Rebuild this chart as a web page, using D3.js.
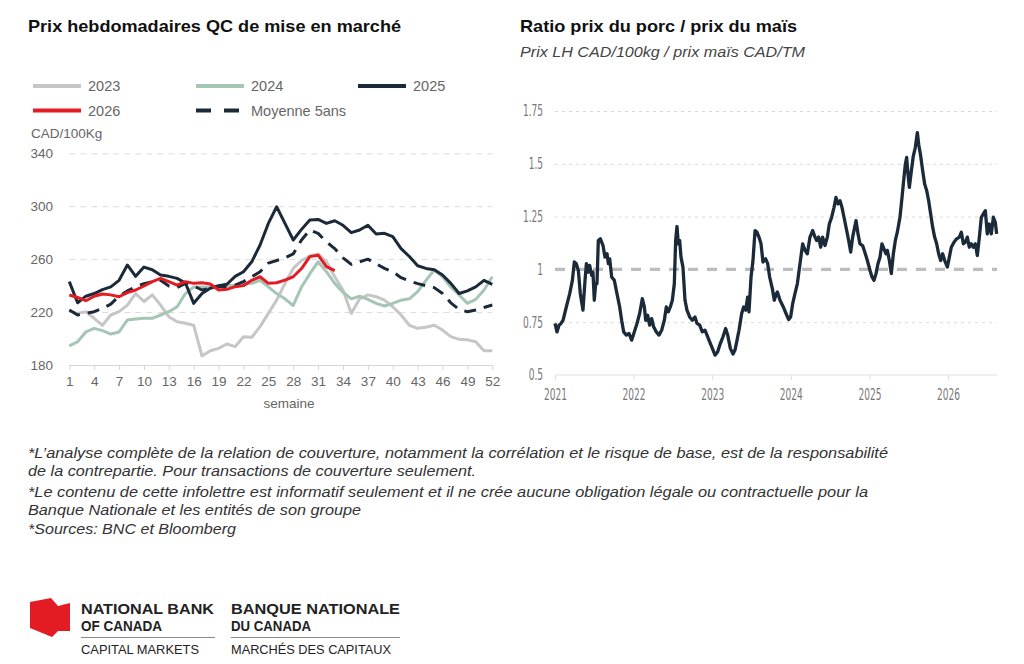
<!DOCTYPE html>
<html lang="fr">
<head>
<meta charset="utf-8">
<script src="https://cdn.jsdelivr.net/npm/d3@7"></script>
<style>
  body { margin: 0; background: #fff; }
  svg { display: block; font-family: "Liberation Sans", Arial, Helvetica, sans-serif; }
</style>
</head>
<body>
<div id="chart"></div>
<script>
// Left chart: weekly QC prices (CAD/100kg)
const weeks = [1, 2, 3, 4, 5, 6, 7, 8, 9, 10, 11, 12, 13, 14, 15, 16, 17, 18, 19, 20, 21, 22, 23, 24, 25, 26,
  27, 28, 29, 30, 31, 32, 33, 34, 35, 36, 37, 38, 39, 40, 41, 42, 43, 44, 45, 46, 47, 48, 49, 50, 51, 52];
const weekTicks = [1, 4, 7, 10, 13, 16, 19, 22, 25, 28, 31, 34, 37, 40, 43, 46, 49, 52];
const priceTicks = [180, 220, 260, 300, 340];

const prix2023 = [221, 219, 220.3, 215.3, 210, 217.8, 220.3, 225.3, 234, 228, 233, 225.3, 216.5, 212.7, 211.5, 210,
  186.8, 190.8, 192.6, 195.9, 193.9, 201.4, 201, 209, 219, 229, 241.7, 253, 259, 262.4, 264, 258, 246.7, 236.7,
  219, 230, 233, 231.6, 229, 224, 217.8, 210, 207.7, 208.5, 210, 206.4, 201.4, 199.4, 199, 197.6, 190.8, 190.8];
const prix2024 = [194.4, 197.6, 205, 207.7, 206, 203.4, 205, 214, 214.8, 215.3, 215.3, 217.8, 220.3, 224, 234, 239,
  239, 239, 239, 240, 240, 241, 241.7, 244, 239, 234, 230, 225, 239, 249, 258, 250.5, 241.7, 235, 230, 232,
  229.6, 226.6, 224.6, 226.6, 229, 230, 235.4, 244, 251.8, 246.7, 239, 233, 226.6, 229.6, 236.7, 246.7];
const prix2025 = [243, 227, 232, 234, 237, 239, 244, 255.6, 247, 254, 252, 248, 247, 245.5, 242, 226.6, 234, 238,
  240, 241, 247, 250.5, 258, 270.7, 287, 299.6, 287, 274.5, 282.5, 289.6, 290, 287, 289, 285.6, 280, 282, 285.6,
  279, 279.5, 277, 268, 262, 255, 253, 252, 248, 241.7, 234, 236, 239, 244, 241];
const prix2026 = [232.9, 231, 228.6, 232, 233.7, 233, 231.6, 234.7, 236.7, 239.7, 243, 245.5, 243, 240.4, 243, 241.7,
  242.2, 241.2, 236.7, 237.2, 239.2, 240, 244, 246.7, 241.7, 242.2, 244.2, 246.7, 252.9, 261.9, 263, 254.3, 251.3];
const moyenne5 = [221.6, 217.8, 219, 220.3, 222.8, 226, 232, 236, 239, 241.5, 243, 244, 239.7, 238.5, 241.7, 239.7,
  236.7, 238, 239.2, 239.2, 240.4, 243, 246.7, 250.5, 257, 259, 261, 264, 274.5, 282, 279.5, 273, 268, 261,
  256, 258, 260, 256.5, 253, 250.5, 246, 243.5, 241.5, 240, 238.5, 234, 227, 222, 220.3, 221.5, 223.5, 225.3];

// Right chart: hog / corn price ratio (decimal year, ratio)
const ratioYears = [2021.000, 2021.025, 2021.051, 2021.076, 2021.102, 2021.144, 2021.187, 2021.221, 2021.246, 2021.271,
  2021.297, 2021.322, 2021.356, 2021.382, 2021.399, 2021.424, 2021.441, 2021.467, 2021.483, 2021.500, 2021.517,
  2021.534, 2021.551, 2021.577, 2021.611, 2021.636, 2021.662, 2021.679, 2021.696, 2021.721, 2021.755, 2021.780,
  2021.823, 2021.848, 2021.874, 2021.908, 2021.941, 2021.975, 2022.009, 2022.043, 2022.077, 2022.111, 2022.137,
  2022.154, 2022.179, 2022.204, 2022.230, 2022.255, 2022.289, 2022.323, 2022.357, 2022.391, 2022.416, 2022.442,
  2022.467, 2022.493, 2022.518, 2022.535, 2022.552, 2022.569, 2022.586, 2022.603, 2022.628, 2022.654, 2022.679,
  2022.713, 2022.747, 2022.781, 2022.807, 2022.841, 2022.874, 2022.908, 2022.934, 2022.959, 2022.993, 2023.036,
  2023.070, 2023.103, 2023.137, 2023.171, 2023.197, 2023.231, 2023.265, 2023.290, 2023.316, 2023.341, 2023.375,
  2023.400, 2023.426, 2023.451, 2023.468, 2023.494, 2023.519, 2023.545, 2023.570, 2023.595, 2023.621, 2023.646,
  2023.680, 2023.706, 2023.731, 2023.765, 2023.790, 2023.816, 2023.829, 2023.863, 2023.905, 2023.939, 2023.973,
  2023.998, 2024.024, 2024.053, 2024.083, 2024.117, 2024.151, 2024.181, 2024.210, 2024.244, 2024.278, 2024.308,
  2024.329, 2024.355, 2024.380, 2024.405, 2024.435, 2024.465, 2024.490, 2024.520, 2024.550, 2024.575, 2024.601,
  2024.626, 2024.651, 2024.677, 2024.711, 2024.736, 2024.762, 2024.787, 2024.813, 2024.830, 2024.855, 2024.880,
  2024.914, 2024.948, 2024.974, 2025.008, 2025.033, 2025.059, 2025.084, 2025.109, 2025.135, 2025.160, 2025.186,
  2025.211, 2025.228, 2025.254, 2025.279, 2025.305, 2025.330, 2025.355, 2025.389, 2025.415, 2025.440, 2025.457,
  2025.474, 2025.491, 2025.508, 2025.534, 2025.559, 2025.584, 2025.610, 2025.627, 2025.652, 2025.678, 2025.703,
  2025.729, 2025.754, 2025.779, 2025.805, 2025.830, 2025.856, 2025.881, 2025.907, 2025.932, 2025.958, 2025.992,
  2026.017, 2026.042, 2026.076, 2026.110, 2026.144, 2026.170, 2026.195, 2026.221, 2026.246, 2026.271, 2026.297,
  2026.322, 2026.348, 2026.373, 2026.399, 2026.424, 2026.450, 2026.475, 2026.500, 2026.526, 2026.551, 2026.577,
  2026.602, 2026.619];
const ratioValues = [0.744, 0.704, 0.736, 0.744, 0.759, 0.822, 0.885, 0.948, 1.035, 1.027,
  0.995, 0.885, 0.807, 0.948, 1.027, 0.987, 1.019, 0.972, 0.987, 0.854, 0.932,
  0.932, 1.137, 1.145, 1.113, 1.058, 1.074, 1.027, 1.050, 0.964, 0.948, 0.901,
  0.822, 0.759, 0.704, 0.689, 0.697, 0.665, 0.704, 0.744, 0.791, 0.862, 0.822,
  0.759, 0.783, 0.736, 0.767, 0.728, 0.704, 0.689, 0.712, 0.759, 0.822, 0.799,
  0.822, 0.854, 0.932, 1.137, 1.203, 1.121, 1.137, 1.058, 1.011, 0.854, 0.807,
  0.775, 0.759, 0.775, 0.744, 0.736, 0.704, 0.712, 0.689, 0.665, 0.634, 0.594,
  0.610, 0.649, 0.681, 0.720, 0.689, 0.626, 0.599, 0.618, 0.665, 0.712, 0.791,
  0.822, 0.807, 0.869, 0.799, 0.964, 1.042, 1.184, 1.176, 1.153, 1.121, 1.035,
  1.050, 1.027, 0.964, 0.909, 0.854, 0.885, 0.893, 0.854, 0.822, 0.791, 0.763,
  0.775, 0.838, 0.885, 0.932, 1.027, 1.121, 1.090, 1.074, 1.153, 1.184, 1.153,
  1.137, 1.153, 1.105, 1.153, 1.113, 1.153, 1.215, 1.247, 1.294, 1.341, 1.310,
  1.325, 1.294, 1.247, 1.184, 1.137, 1.082, 1.153, 1.200, 1.231, 1.168, 1.121,
  1.113, 1.074, 1.042, 0.995, 0.964, 0.948, 0.980, 1.027, 1.058, 1.121, 1.097,
  1.074, 1.090, 1.042, 0.980, 1.074, 1.137, 1.176, 1.247, 1.341, 1.436, 1.498,
  1.530, 1.451, 1.388, 1.467, 1.538, 1.577, 1.648, 1.593, 1.538, 1.467, 1.404,
  1.373, 1.325, 1.263, 1.200, 1.153, 1.121, 1.074, 1.042, 1.074, 1.042, 1.011,
  1.058, 1.105, 1.129, 1.145, 1.153, 1.176, 1.121, 1.129, 1.153, 1.105, 1.121,
  1.105, 1.121, 1.066, 1.153, 1.247, 1.263, 1.278, 1.168, 1.215, 1.168, 1.247,
  1.223, 1.168];
const yearTicks = [2021, 2022, 2023, 2024, 2025, 2026];
const ratioTicks = [0.5, 0.75, 1, 1.25, 1.5, 1.75];

const legendItems = [
  { label: '2023', color: '#c6c6c6', dash: null },
  { label: '2024', color: '#a5c5b5', dash: null },
  { label: '2025', color: '#1b2a38', dash: null },
  { label: '2026', color: '#e31c23', dash: null },
  { label: 'Moyenne 5ans', color: '#1b2a38', dash: '15,13' }
];

const footnotes = [
  '*L\u2019analyse compl\u00e8te de la relation de couverture, notamment la corr\u00e9lation et le risque de base, est de la responsabilit\u00e9',
  'de la contrepartie. Pour transactions de couverture seulement.',
  '*Le contenu de cette infolettre est informatif seulement et il ne cr\u00e9e aucune obligation l\u00e9gale ou contractuelle pour la',
  'Banque Nationale et les entit\u00e9s de son groupe',
  '*Sources: BNC et Bloomberg'
];
// measured line widths in the picture (px)
const footnoteWidths = [860, 448, 840, 333, 208];

const svg = d3.select('#chart').append('svg').attr('width', 1024).attr('height', 664);

// ---- Titles
svg.append('text').attr('x', 28).attr('y', 32).style('font-size', '17px').style('font-weight', 'bold').attr('fill', '#111')
  .attr('textLength', 373).attr('lengthAdjust', 'spacingAndGlyphs')
  .text('Prix hebdomadaires QC de mise en march\u00e9');
svg.append('text').attr('x', 520).attr('y', 32).style('font-size', '17px').style('font-weight', 'bold').attr('fill', '#111')
  .attr('textLength', 277).attr('lengthAdjust', 'spacingAndGlyphs')
  .text('Ratio prix du porc / prix du ma\u00efs');
svg.append('text').attr('x', 520).attr('y', 57).style('font-size', '15px').style('font-style', 'italic').attr('fill', '#444')
  .attr('textLength', 285).attr('lengthAdjust', 'spacingAndGlyphs')
  .text('Prix LH CAD/100kg / prix ma\u00efs CAD/TM');

// ---- Left chart
const xWeek = d3.scaleLinear().domain([1, 52]).range([69.3, 492.3]);
const yPrice = d3.scaleLinear().domain([180, 340]).range([365, 153.3]);

const left = svg.append('g').attr('class', 'left');

left.append('g').attr('class', 'grid-y')
  .attr('transform', `translate(${xWeek(1)},0)`)
  .call(d3.axisLeft(yPrice).tickValues(priceTicks.slice(1)).tickSize(-(xWeek(52) - xWeek(1))).tickFormat(''))
  .call(g => g.select('.domain').remove())
  .selectAll('line').attr('stroke', '#dcdcdc').attr('stroke-width', 1).attr('stroke-dasharray', '6,5');

left.append('g').attr('class', 'axis-y')
  .attr('transform', 'translate(56,0)')
  .call(d3.axisLeft(yPrice).tickValues(priceTicks).tickSize(0).tickPadding(3))
  .call(g => g.select('.domain').remove())
  .selectAll('text').attr('fill', '#666').style('font-size', '13.5px').style('font-family', '"Liberation Sans", Arial, sans-serif');

left.append('g').attr('class', 'axis-x')
  .attr('transform', `translate(0,${yPrice(180)})`)
  .call(d3.axisBottom(xWeek).tickValues(weekTicks).tickSize(5).tickSizeOuter(0).tickPadding(6))
  .call(g => g.select('.domain').attr('stroke', '#d6d6d6'))
  .call(g => g.selectAll('line').attr('stroke', '#d6d6d6'))
  .selectAll('text').attr('fill', '#666').style('font-size', '13.5px').style('font-family', '"Liberation Sans", Arial, sans-serif');

left.append('text').attr('x', xWeek(27.5)).attr('y', 408).attr('text-anchor', 'middle')
  .attr('fill', '#666').style('font-size', '13.5px').text('semaine');
left.append('text').attr('x', 31).attr('y', 138).attr('fill', '#666').style('font-size', '13.5px').text('CAD/100Kg');

const priceLine = d3.line().x((d, i) => xWeek(weeks[i])).y(d => yPrice(d));
const leftSeries = [
  { values: prix2023, color: '#c6c6c6', dash: null },
  { values: prix2024, color: '#a5c5b5', dash: null },
  { values: prix2025, color: '#1b2a38', dash: null },
  { values: moyenne5, color: '#1b2a38', dash: '12,8' },
  { values: prix2026, color: '#e31c23', dash: null }
];
leftSeries.forEach(s => {
  left.append('path')
    .datum(s.values)
    .attr('fill', 'none')
    .attr('stroke', s.color)
    .attr('stroke-width', 3)
    .attr('stroke-linejoin', 'round')
    .attr('stroke-dasharray', s.dash)
    .attr('d', priceLine);
});

// Legend
const legendPos = [[33, 86], [196, 86], [358, 86], [33, 110.5], [196, 110.5]];
legendItems.forEach((item, i) => {
  const [lx, ly] = legendPos[i];
  const lg = svg.append('g').attr('transform', `translate(${lx},${ly})`);
  lg.append('line').attr('x1', 0).attr('x2', item.dash ? 43 : 48).attr('y1', 0).attr('y2', 0)
    .attr('stroke', item.color).attr('stroke-width', 4).attr('stroke-dasharray', item.dash);
  lg.append('text').attr('x', 55).attr('y', 0).attr('dy', '0.35em').attr('fill', '#666')
    .style('font-size', '14.5px').text(item.label);
});

// ---- Right chart
const xYear = d3.scaleLinear().domain([2021, 2026]).range([555, 948]);
const yRatio = d3.scaleLinear().domain([0.5, 1.75]).range([375, 111]);
const rightEnd = 997;
const narrow = '"DejaVu Sans Condensed", "Liberation Sans", Arial, sans-serif';

// the original uses a narrow face: measure "2021" and squeeze labels so it is ~23px wide
const probe = svg.append('text').style('font-size', '15px').style('font-family', narrow).text('2021');
const narrowK = 23 / probe.node().getComputedTextLength();
probe.remove();
const squeeze = function () { return this.getComputedTextLength() * narrowK; };

const right = svg.append('g').attr('class', 'right');

right.append('g').attr('class', 'grid-y')
  .attr('transform', `translate(${xYear(2021)},0)`)
  .call(d3.axisLeft(yRatio).tickValues([0.75, 1.25, 1.5, 1.75]).tickSize(-(rightEnd - xYear(2021))).tickFormat(''))
  .call(g => g.select('.domain').remove())
  .selectAll('line').attr('stroke', '#d9d9d9').attr('stroke-width', 1).attr('stroke-dasharray', '3,4');

right.append('line')
  .attr('x1', xYear(2021)).attr('x2', rightEnd)
  .attr('y1', yRatio(1)).attr('y2', yRatio(1))
  .attr('stroke', '#bdbdbd').attr('stroke-width', 3.2).attr('stroke-dasharray', '10,9');

right.append('g').attr('class', 'axis-y')
  .attr('transform', 'translate(545,0)')
  .call(d3.axisLeft(yRatio).tickValues(ratioTicks).tickSize(0).tickPadding(2).tickFormat(d => String(d)))
  .call(g => g.select('.domain').remove())
  .selectAll('text').attr('fill', '#777').style('font-size', '15px').style('font-family', narrow)
  .attr('textLength', squeeze).attr('lengthAdjust', 'spacingAndGlyphs');

right.append('line')
  .attr('x1', xYear(2021)).attr('x2', rightEnd)
  .attr('y1', yRatio(0.5)).attr('y2', yRatio(0.5))
  .attr('stroke', '#dedede').attr('stroke-width', 1);

right.append('g').attr('class', 'axis-x')
  .attr('transform', `translate(0,${yRatio(0.5)})`)
  .call(d3.axisBottom(xYear).tickValues(yearTicks).tickFormat(d3.format('d')).tickSize(5).tickSizeOuter(0).tickPadding(9))
  .call(g => g.select('.domain').remove())
  .call(g => g.selectAll('line').attr('stroke', '#dedede'))
  .selectAll('text').attr('fill', '#777').style('font-size', '15px').style('font-family', narrow)
  .attr('textLength', squeeze).attr('lengthAdjust', 'spacingAndGlyphs');

const ratioLine = d3.line().x((d, i) => xYear(ratioYears[i])).y(d => yRatio(d));
right.append('path')
  .datum(ratioValues)
  .attr('fill', 'none')
  .attr('stroke', '#1b2a38')
  .attr('stroke-width', 3.3)
  .attr('stroke-linejoin', 'round')
  .attr('d', ratioLine);

// ---- Footnotes
const notes = svg.append('g').attr('class', 'notes');
const noteY = [458, 476, 497, 515, 534];
footnotes.forEach((t, i) => {
  notes.append('text').attr('x', 28).attr('y', noteY[i])
    .attr('textLength', footnoteWidths[i]).attr('lengthAdjust', 'spacingAndGlyphs')
    .attr('fill', '#333').style('font-size', '15.5px').style('font-style', 'italic').text(t);
});

// ---- Logo
const logo = svg.append('g').attr('class', 'logo');
logo.append('polygon')
  .attr('points', '30,602 51,598 58,606 70,603 70,631 58,631 52,637 30,628')
  .attr('fill', '#e31c23');
const logoText = [
  { x: 81, y: 614, t: 'NATIONAL BANK', w: 133, bold: true },
  { x: 81, y: 631, t: 'OF CANADA', w: 81, bold: true },
  { x: 81, y: 654, t: 'CAPITAL MARKETS', w: 118, bold: false },
  { x: 231, y: 614, t: 'BANQUE NATIONALE', w: 169, bold: true },
  { x: 231, y: 631, t: 'DU CANADA', w: 80, bold: true },
  { x: 231, y: 654, t: 'MARCH\u00c9S DES CAPITAUX', w: 160, bold: false }
];
logoText.forEach(d => {
  logo.append('text').attr('x', d.x).attr('y', d.y)
    .attr('textLength', d.w).attr('lengthAdjust', 'spacingAndGlyphs')
    .attr('fill', '#222')
    .style('font-size', d.bold ? '15px' : '13.5px')
    .style('font-weight', d.bold ? 'bold' : 'normal')
    .text(d.t);
});
logo.append('line').attr('x1', 81).attr('x2', 215).attr('y1', 637.5).attr('y2', 637.5).attr('stroke', '#8a8a8a').attr('stroke-width', 1);
logo.append('line').attr('x1', 231).attr('x2', 400).attr('y1', 637.5).attr('y2', 637.5).attr('stroke', '#8a8a8a').attr('stroke-width', 1);
</script>
</body>
</html>
